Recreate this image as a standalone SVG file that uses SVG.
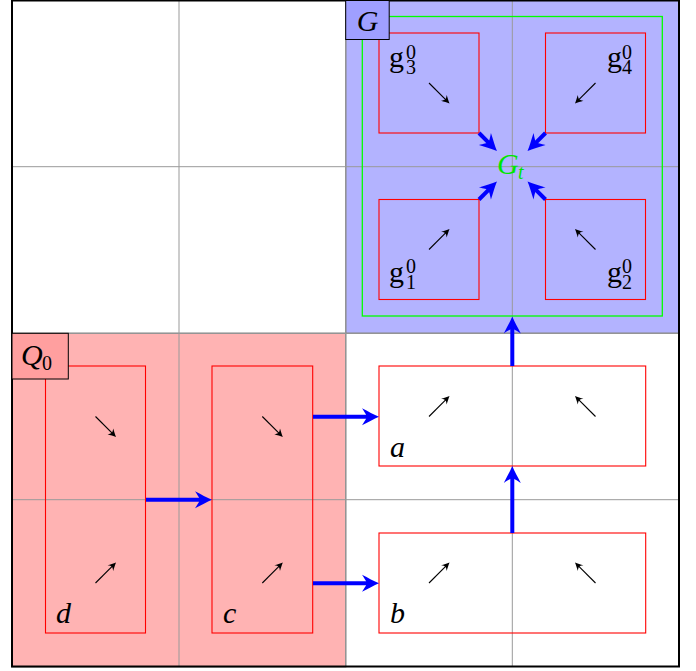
<svg xmlns="http://www.w3.org/2000/svg" width="696" height="671" viewBox="0 0 696 671">
<defs>
<style>
.grid{stroke:#999;stroke-width:1;fill:none}
.region{stroke:#808080;stroke-width:1.4}
.box{fill:none;stroke:#f00;stroke-width:1.1}
.mini{stroke:#000;stroke-width:1.1;fill:none;marker-end:url(#ah)}
.conn{stroke:#00f;stroke-width:4;fill:none;marker-end:url(#bh)}
.lbl{font-family:"Liberation Serif","Times New Roman",serif;font-size:30px;fill:#000}
.it{font-style:italic}
.sm{font-size:20px}
.tag{stroke:#000;stroke-width:1}
</style>
<marker id="bh" markerUnits="userSpaceOnUse" viewBox="-20 -10 22 20" markerWidth="22" markerHeight="20" refX="-8" refY="0" orient="auto">
<path d="M0,0 C-5,-2 -11,-5.5 -17,-8.5 C-14,-4 -12.5,-2 -12.5,0 C-12.5,2 -14,4 -17,8.5 C-11,5.5 -5,2 0,0 Z" fill="#00f"/>
</marker>
<marker id="ah" markerUnits="userSpaceOnUse" viewBox="-10 -5 11 10" markerWidth="11" markerHeight="10" refX="-3" refY="0" orient="auto">
<path d="M0,0 C-2.5,-1 -5.5,-2.7 -8,-4 C-6.5,-2 -6,-1 -6,0 C-6,1 -6.5,2 -8,4 C-5.5,2.7 -2.5,1 0,0 Z" fill="#000"/>
</marker>
</defs>
<rect width="696" height="671" fill="#fff"/>
<g id="regions">
<rect id="region-G" class="region" x="345.7" y="0" width="333" height="333.3" fill="#b3b3ff"/>
<rect id="region-Q0" class="region" x="12" y="333.3" width="333.7" height="333.4" fill="#ffb3b3"/>
</g>
<g id="grid" class="grid">
<line x1="179" y1="0" x2="179" y2="666.7"/>
<line x1="345.7" y1="0" x2="345.7" y2="666.7"/>
<line x1="512.3" y1="0" x2="512.3" y2="666.7"/>
<line x1="12" y1="166.7" x2="679" y2="166.7"/>
<line x1="12" y1="333.3" x2="679" y2="333.3"/>
<line x1="12" y1="499.7" x2="679" y2="499.7"/>
</g>
<rect id="frame" x="12" y="0.5" width="667" height="666" fill="none" stroke="#000" stroke-width="2"/>
<g id="Gt">
<rect x="362.3" y="16.5" width="300" height="299.5" fill="none" stroke="#0f0" stroke-width="1.3"/>
<text class="lbl it" fill="#0f0" style="fill:#00e600"><tspan x="497" y="173.5">G</tspan><tspan class="sm" x="518" y="179">t</tspan></text>
</g>
<g id="g3">
<rect class="box" x="379" y="33" width="100" height="100"/>
<line class="mini" x1="429" y1="83" x2="447.4" y2="101.4"/>
<text class="lbl"><tspan x="389" y="66.5">g</tspan><tspan class="sm" x="406" y="58.5">0</tspan><tspan class="sm" x="406" y="74">3</tspan></text>
</g>
<g id="g4">
<rect class="box" x="545.5" y="33" width="100" height="100"/>
<line class="mini" x1="595.5" y1="83" x2="577.1" y2="101.4"/>
<text class="lbl"><tspan x="607" y="66.5">g</tspan><tspan class="sm" x="622" y="58.5">0</tspan><tspan class="sm" x="622" y="74">4</tspan></text>
</g>
<g id="g1">
<rect class="box" x="379" y="199.5" width="100" height="100"/>
<line class="mini" x1="429" y1="249.5" x2="447.4" y2="231.1"/>
<text class="lbl"><tspan x="389" y="281.5">g</tspan><tspan class="sm" x="406" y="273">0</tspan><tspan class="sm" x="406" y="288.5">1</tspan></text>
</g>
<g id="g2">
<rect class="box" x="545.5" y="199.5" width="100" height="100"/>
<line class="mini" x1="595.5" y1="249.5" x2="577.1" y2="231.1"/>
<text class="lbl"><tspan x="607" y="281.5">g</tspan><tspan class="sm" x="622" y="273">0</tspan><tspan class="sm" x="622" y="288.5">2</tspan></text>
</g>
<g id="a">
<rect class="box" x="379" y="366" width="266.7" height="100"/>
<line class="mini" x1="429" y1="416.5" x2="447.4" y2="398.1"/>
<line class="mini" x1="595.5" y1="416.5" x2="577.1" y2="398.1"/>
<text class="lbl it" x="390" y="456.5">a</text>
</g>
<g id="b">
<rect class="box" x="379" y="533" width="266.7" height="100"/>
<line class="mini" x1="429" y1="583" x2="447.4" y2="564.6"/>
<line class="mini" x1="595.5" y1="583" x2="577.1" y2="564.6"/>
<text class="lbl it" x="390" y="622.5">b</text>
</g>
<g id="d">
<rect class="box" x="45.5" y="366" width="100" height="267"/>
<line class="mini" x1="95.5" y1="416.5" x2="113.9" y2="434.9"/>
<line class="mini" x1="95.5" y1="583" x2="113.9" y2="564.6"/>
<text class="lbl it" x="56" y="623">d</text>
</g>
<g id="c">
<rect class="box" x="212" y="366" width="100.7" height="267"/>
<line class="mini" x1="262.3" y1="416.5" x2="280.7" y2="434.9"/>
<line class="mini" x1="262.3" y1="583" x2="280.7" y2="564.6"/>
<text class="lbl it" x="223" y="623">c</text>
</g>
<g id="connectors">
<line class="conn" x1="146" y1="499.7" x2="204" y2="499.7"/>
<line class="conn" x1="313" y1="416.7" x2="371" y2="416.7"/>
<line class="conn" x1="313" y1="583.3" x2="371" y2="583.3"/>
<line class="conn" x1="512.3" y1="533" x2="512.3" y2="474"/>
<line class="conn" x1="512.3" y1="366" x2="512.3" y2="324.5"/>
<line class="conn" x1="479" y1="133" x2="491.3" y2="145.3"/>
<line class="conn" x1="545.5" y1="133" x2="533.2" y2="145.3"/>
<line class="conn" x1="479" y1="199.5" x2="491.3" y2="187.2"/>
<line class="conn" x1="545.5" y1="199.5" x2="533.2" y2="187.2"/>
</g>
<g id="label-G">
<rect class="tag" x="345.7" y="0.5" width="43.5" height="39" fill="#9f9fff"/>
<text class="lbl it" x="367.5" y="30.5" text-anchor="middle">G</text>
</g>
<g id="label-Q0">
<rect class="tag" x="12" y="333.3" width="56.3" height="45.7" fill="#ff9f9f"/>
<text class="lbl"><tspan class="it" x="21" y="365">Q</tspan><tspan class="sm" x="42" y="369.5">0</tspan></text>
</g>
</svg>
